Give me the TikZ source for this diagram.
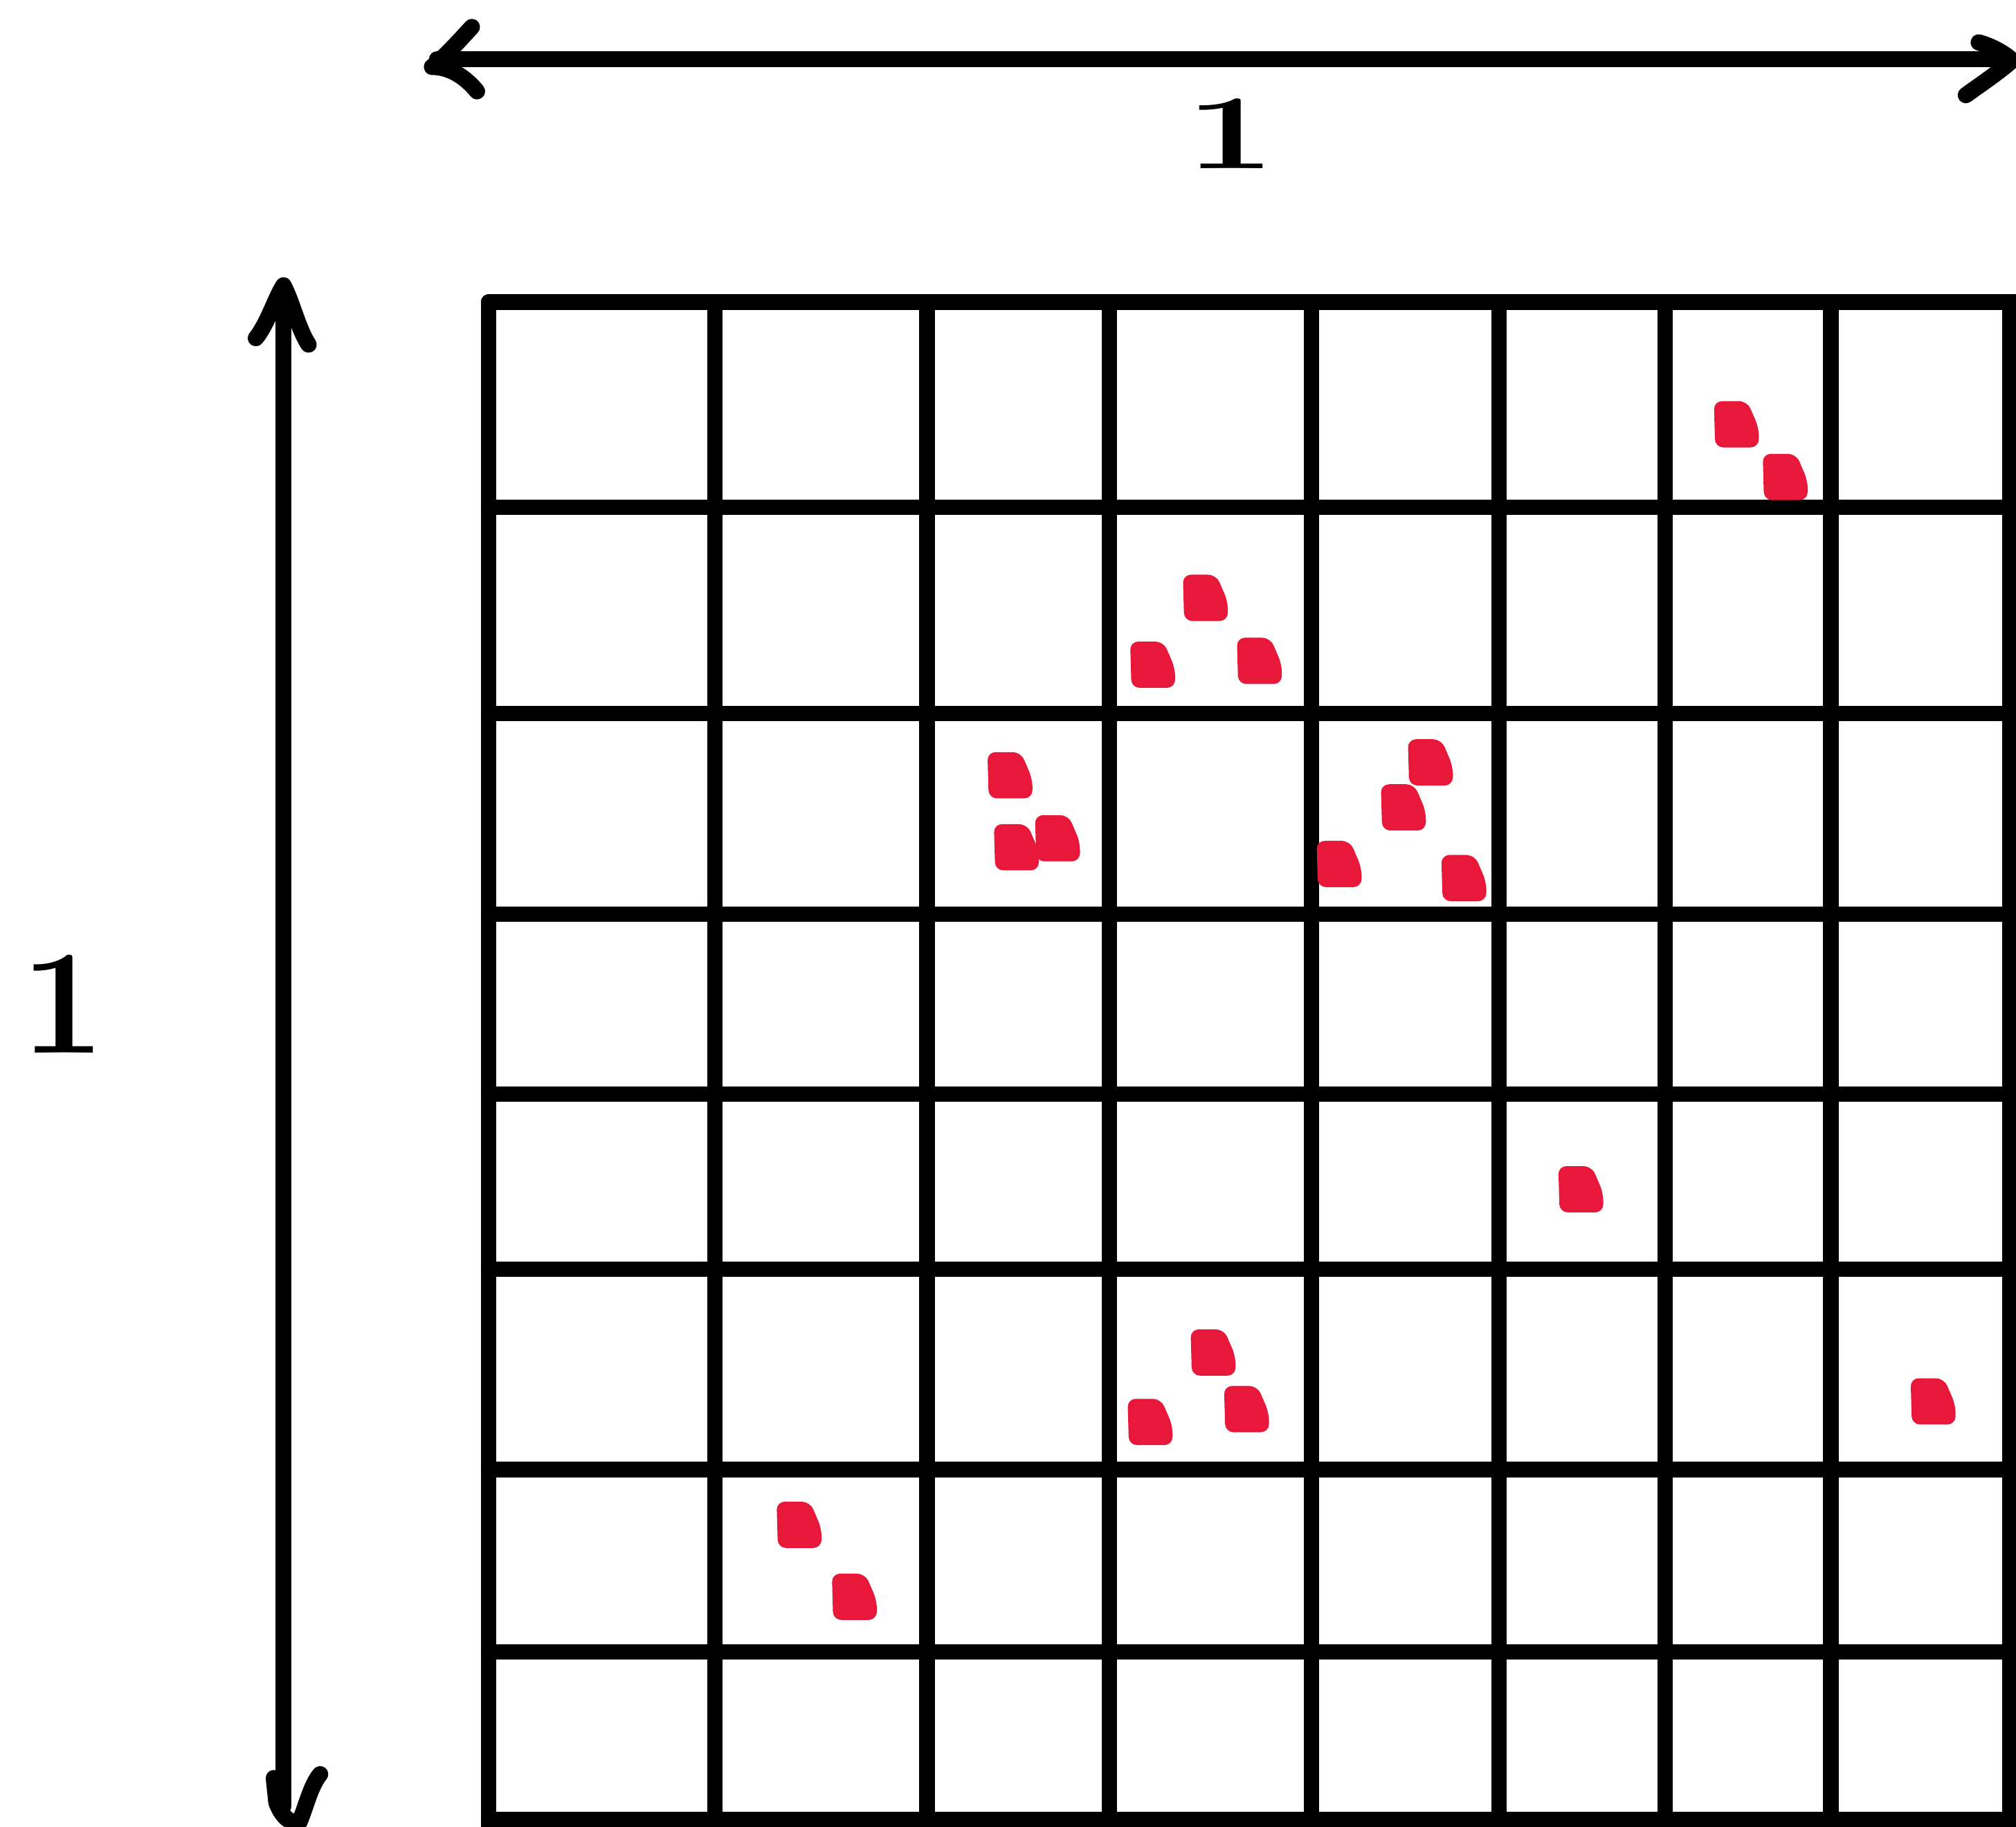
\documentclass[tikz,border=0pt]{standalone}
\usepackage{fontspec}
\definecolor{dotred}{RGB}{232,24,58}
\tikzset{
  gridline/.style={line width=3.4pt, line cap=round},
  arrowline/.style={line width=3.6pt, line cap=round, line join=round},
  dotshape/.pic={\fill[dotred, rounded corners=1.8pt] (-17,-18) -- (9,-18) -- (18,3) -- (18,18) -- (-16,18) -- cycle;},
  lbl/.style={inner sep=0pt, font=\bfseries\fontsize{23.5}{28}\selectfont}
}
\begin{document}
\begin{tikzpicture}[x=0.01cm, y=-0.01cm]
\fill[white] (0,0) rectangle (1568,1421);
\clip (0,0) rectangle (1568,1421);
% grid
\foreach \x in {380,556,721,863,1020,1166,1295,1424,1563}
  \draw[gridline] (\x,235) -- (\x,1428);
\foreach \y in {235,394.5,555,711,851,987,1143,1285,1415}
  \draw[gridline] (380,\y) -- (1580,\y);
% horizontal double arrow
\coordinate (hl) at (340,46);
\coordinate (hr) at (1560,46);
\draw[arrowline] (hl) -- (hr);
\draw[arrowline] (367,21) .. controls (356,33) and (346,44) .. (336,52) .. controls (350,52) and (362,60) .. (371,71);
\draw[arrowline] (1539,33) .. controls (1550,36) and (1560,42) .. (1565,47) .. controls (1555,56) and (1540,66) .. (1529,74);
\node[lbl] (toplabel) at (957,104) {\scalebox{1.5}[1]{1}};
% vertical double arrow
\coordinate (vt) at (220.5,226);
\coordinate (vb) at (220.5,1405);
\draw[arrowline] (vt) -- (vb);
\draw[arrowline] (199,263) .. controls (208,252) and (214,232) .. (220.5,222) .. controls (227,234) and (232,256) .. (240,268);
\draw[arrowline] (213,1383) -- (215,1402) .. controls (219,1413) and (226,1419) .. (233,1417) .. controls (238,1405) and (242,1388) .. (249,1380);
\node[lbl, font=\bfseries\fontsize{33}{40}\selectfont] (leftlabel) at (49,781) {1};
% red points
\foreach \px/\py in {1350/330,1388/371,937/465,896/517,979/514,785/603,790/659,822/652,1112/593,1091/628,1041/672,1138/683,1229/925,943/1052,969/1096,894/1106,1503/1090,621/1186,664/1242}
  \pic at (\px,\py) {dotshape};
\end{tikzpicture}
\end{document}
